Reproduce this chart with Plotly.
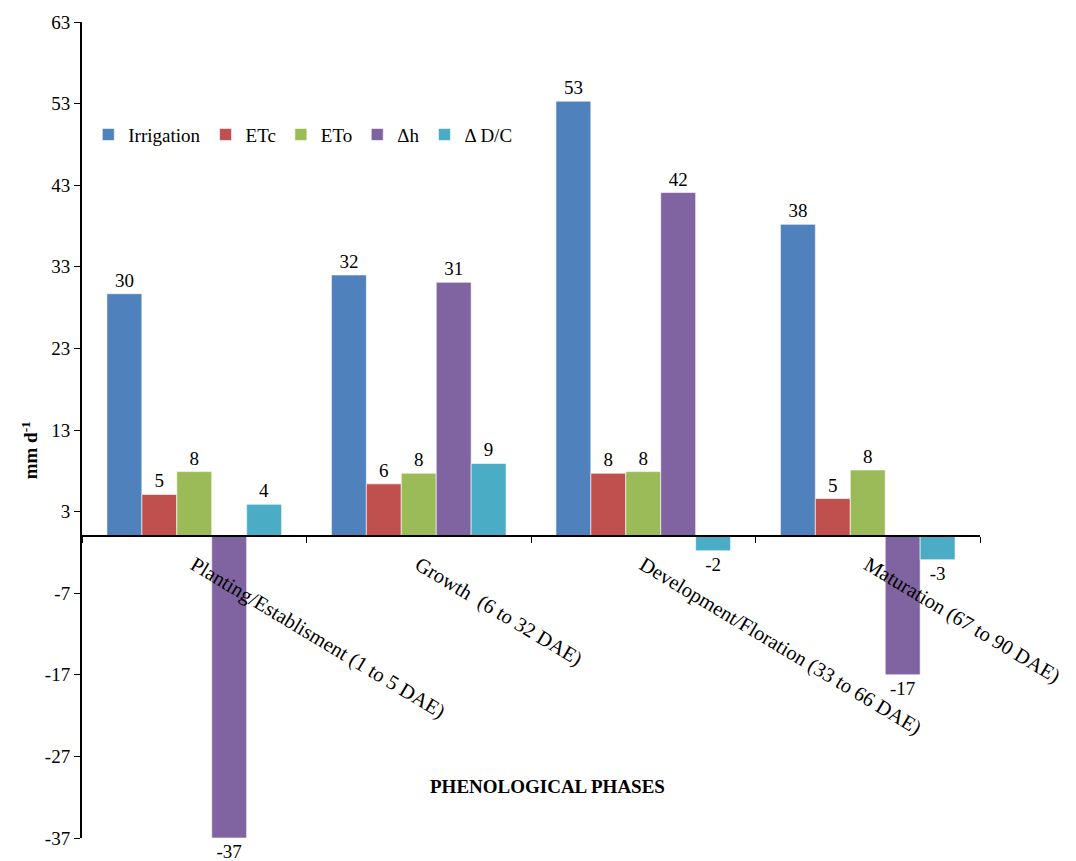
import plotly.graph_objects as go

# Phenological phases (categories)
phases = [
    "Planting/Establisment (1 to 5 DAE)",
    "Growth  (6 to 32 DAE)",
    "Development/Floration (33 to 66 DAE)",
    "Maturation (67 to 90 DAE)",
]

# Series values, mm d-1
irrigation = [29.7, 32.0, 53.3, 38.2]
etc_vals = [5.1, 6.4, 7.7, 4.6]
eto_vals = [7.9, 7.7, 7.9, 8.1]
delta_h = [-37.0, 31.1, 42.1, -17.0]
delta_dc = [3.9, 8.9, -1.8, -2.9]

series_names = ["Irrigation", "ETc", "ETo", "Δh", "Δ D/C"]
series_values = [irrigation, etc_vals, eto_vals, delta_h, delta_dc]
colors = ["#4F81BD", "#C0504D", "#9BBB59", "#8064A2", "#4BACC6"]

# y-axis tick positions
y_ticks = [-37, -27, -17, -7, 3, 13, 23, 33, 43, 53, 63]

FONT = "Liberation Serif"
Y_MIN, Y_MAX = -37, 63

fig = go.Figure()
for name, vals, col in zip(series_names, series_values, colors):
    fig.add_trace(go.Bar(
        x=phases,
        y=vals,
        name=name,
        marker=dict(color=col, line=dict(color="rgba(255,255,255,0.6)", width=1)),
        texttemplate="%{y:.0f}",
        textposition="outside",
        textfont=dict(family=FONT, size=19, color="black"),
        constraintext="none",
        cliponaxis=False,
    ))

fig.update_layout(
    width=1076,
    height=861,
    margin=dict(l=82, r=94, t=20, b=21),
    paper_bgcolor="white",
    plot_bgcolor="white",
    barmode="group",
    bargap=0.222,
    bargroupgap=0,
    font=dict(family=FONT, size=19, color="black"),
    showlegend=True,
    legend=dict(
        orientation="h",
        x=0.007,
        xanchor="left",
        y=0.862,
        yanchor="middle",
        font=dict(family=FONT, size=19, color="black"),
        bgcolor="rgba(0,0,0,0)",
    ),
    xaxis=dict(
        type="category",
        anchor="free",
        position=(0 - Y_MIN) / (Y_MAX - Y_MIN),
        showline=True,
        linecolor="black",
        linewidth=2,
        ticks="outside",
        tickson="boundaries",
        ticklen=6,
        tickcolor="black",
        tickangle=31,
        ticklabelstandoff=8,
        tickfont=dict(family=FONT, size=20.5, color="black"),
        showgrid=False,
        zeroline=False,
    ),
    yaxis=dict(
        range=[Y_MIN, Y_MAX],
        tickmode="array",
        tickvals=y_ticks,
        ticktext=[str(v) for v in y_ticks],
        showline=True,
        linecolor="black",
        linewidth=2,
        ticks="outside",
        ticklen=6,
        tickcolor="black",
        tickfont=dict(family=FONT, size=19, color="black"),
        showgrid=False,
        zeroline=False,
    ),
    annotations=[
        dict(
            text="<b>mm d<sup>-1</sup></b>",
            xref="paper", yref="paper",
            x=-0.058, y=0.475,
            xanchor="center", yanchor="middle",
            textangle=-90,
            showarrow=False,
            font=dict(family=FONT, size=19, color="black"),
        ),
        dict(
            text="<b>PHENOLOGICAL PHASES</b>",
            xref="paper", yref="paper",
            x=0.518, y=0.063,
            xanchor="center", yanchor="middle",
            showarrow=False,
            font=dict(family=FONT, size=19, color="black"),
        ),
    ],
)

fig.write_html("out.html")
